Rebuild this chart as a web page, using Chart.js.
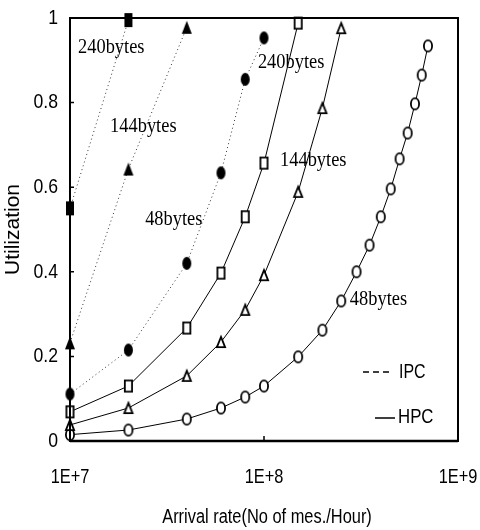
<!DOCTYPE html>
<html>
<head>
<meta charset="utf-8">
<script src="https://cdn.jsdelivr.net/npm/chart.js@4"></script>
<style>
  html, body { margin: 0; padding: 0; background: #fff; }
  #wrap { width: 480px; height: 530px; }
</style>
</head>
<body>
<div id="wrap"><canvas id="c-util"></canvas></div>
<script>
// ── DATA ──────────────────────────────────────────────────────
// arrival-rate steps (mes./hour), each series uses the first N of them
const rates  = [1e7, 2e7, 4e7, 6e7, 8e7, 1e8, 1.5e8, 2e8, 2.5e8, 3e8, 3.5e8,
                4e8, 4.5e8, 5e8, 5.5e8, 6e8, 6.5e8, 7e8];
const ipc240 = [0.55, 0.995];
const ipc144 = [0.232, 0.643, 0.978];
const ipc48  = [0.111, 0.215, 0.42, 0.634, 0.855, 0.953];
const hpc240 = [0.069, 0.13, 0.267, 0.397, 0.53, 0.657, 0.988];
const hpc144 = [0.038, 0.078, 0.154, 0.234, 0.31, 0.392, 0.589, 0.787, 0.976];
const hpc48  = [0.015, 0.026, 0.052, 0.078, 0.104, 0.13, 0.199, 0.262, 0.331, 0.40,
                0.463, 0.53, 0.596, 0.667, 0.728, 0.797, 0.865, 0.934];
const xTicks = [1e7, 1e8, 1e9];
const xTitle = 'Arrival rate(No of mes./Hour)';
const yTitle = 'Utilization';
// message-size labels next to the curves (data coords, left edge / centre)
const curveLabels = [
  { text: '240bytes', x: 1.1e7,  y: 0.929 },
  { text: '144bytes', x: 1.61e7, y: 0.742 },
  { text: '48bytes',  x: 2.44e7, y: 0.522 },
  { text: '240bytes', x: 9.3e7,  y: 0.894 },
  { text: '144bytes', x: 1.21e8, y: 0.662 },
  { text: '48bytes',  x: 2.77e8, y: 0.333 }
];
const legendItems = ['IPC', 'HPC'];

const sans = "'Liberation Sans', Arial, sans-serif";

// ── MARKERS (slightly tall, like the printed figure) ──────────
function marker(shape, w, h, filled) {
  const c = document.createElement('canvas');
  c.width = w + 4; c.height = h + 4;
  const g = c.getContext('2d');
  const lw = filled ? 0 : 1.8;
  const x0 = 2 + lw / 2, y0 = 2 + lw / 2, x1 = 2 + w - lw / 2, y1 = 2 + h - lw / 2;
  g.beginPath();
  if (shape === 'rect') {
    g.rect(x0, y0, x1 - x0, y1 - y0);
  } else if (shape === 'tri') {
    g.moveTo((x0 + x1) / 2, y0);
    g.lineTo(x1, y1);
    g.lineTo(x0, y1);
    g.closePath();
  } else {
    g.ellipse((x0 + x1) / 2, (y0 + y1) / 2, (x1 - x0) / 2, (y1 - y0) / 2, 0, 0, Math.PI * 2);
  }
  if (filled) {
    g.fillStyle = '#000';
    g.fill();
  } else {
    g.fillStyle = '#fff';
    g.fill();
    g.lineWidth = lw;
    g.strokeStyle = '#000';
    g.stroke();
  }
  return c;
}

function series(vals, style, dotted) {
  return {
    data: vals.map((v, i) => ({ x: rates[i], y: v })),
    showLine: true,
    borderColor: dotted ? '#333' : '#000',
    borderWidth: 1,
    borderDash: dotted ? [1, 3] : [],
    tension: 0,
    pointStyle: style,
    pointRadius: 6,
    pointHoverRadius: 6,
    clip: false
  };
}

// squeezed text, the figure uses a narrow face
function narrowText(ctx, text, x, y, sx) {
  ctx.save();
  ctx.translate(x, y);
  ctx.scale(sx, 1);
  ctx.fillText(text, 0, 0);
  ctx.restore();
}

// ── OVERLAYS: frame, ticks, tick labels, curve labels, legend ─
const overlay = {
  id: 'overlay',
  afterDatasetsDraw(chart) {
    const { ctx, chartArea: a, scales: { x, y } } = chart;
    ctx.save();
    ctx.strokeStyle = '#000';
    ctx.lineWidth = 2;
    ctx.strokeRect(a.left, a.top, a.right - a.left, a.bottom - a.top);
    ctx.lineWidth = 2.5;
    ctx.beginPath();
    ctx.moveTo(a.left, a.bottom); ctx.lineTo(a.right, a.bottom);
    ctx.stroke();

    // small tick marks pointing into the plot
    ctx.lineWidth = 1.5;
    ctx.beginPath();
    y.ticks.forEach(t => {
      const py = y.getPixelForValue(t.value);
      ctx.moveTo(a.left, py); ctx.lineTo(a.left + 4, py);
    });
    x.ticks.forEach(t => {
      const px = x.getPixelForValue(t.value);
      ctx.moveTo(px, a.bottom); ctx.lineTo(px, a.bottom - 5);
    });
    ctx.stroke();

    // tick labels
    ctx.fillStyle = '#000';
    ctx.font = '21px ' + sans;
    ctx.textBaseline = 'middle';
    ctx.textAlign = 'right';
    y.ticks.forEach(t => {
      narrowText(ctx, String(+t.value.toFixed(1)), a.left - 12, y.getPixelForValue(t.value), 0.84);
    });
    ctx.textAlign = 'center';
    x.ticks.forEach(t => {
      narrowText(ctx, '1E+' + Math.round(Math.log10(t.value)), x.getPixelForValue(t.value), a.bottom + 36, 0.78);
    });
    ctx.font = '20px ' + sans;
    narrowText(ctx, xTitle, (a.left + a.right) / 2 + 3, a.bottom + 76, 0.82);

    // size labels
    ctx.font = "20px 'Liberation Serif', 'DejaVu Serif', serif";
    ctx.textAlign = 'left';
    curveLabels.forEach(l => {
      narrowText(ctx, l.text, x.getPixelForValue(l.x), y.getPixelForValue(l.y), 0.92);
    });

    // legend
    const lx = a.right - 95, ly = a.bottom - 69;
    ctx.lineWidth = 1.6;
    ctx.beginPath();
    for (let i = 0; i < 3; i++) {
      ctx.moveTo(lx + i * 10, ly); ctx.lineTo(lx + i * 10 + 6, ly);
    }
    ctx.moveTo(lx + 12, ly + 46); ctx.lineTo(lx + 32, ly + 46);
    ctx.stroke();
    ctx.font = '21px ' + sans;
    narrowText(ctx, legendItems[0], lx + 36, ly, 0.76);
    narrowText(ctx, legendItems[1], lx + 35, ly + 45, 0.8);
    ctx.restore();
  }
};

new Chart(document.getElementById('c-util'), {
  type: 'scatter',
  data: {
    datasets: [
      series(ipc240, marker('rect', 8, 14, true), true),
      series(ipc144, marker('tri', 10, 13, true), true),
      series(ipc48,  marker('ellipse', 9, 13, true), true),
      series(hpc240, marker('rect', 9, 13, false), false),
      series(hpc144, marker('tri', 10, 12, false), false),
      series(hpc48,  marker('ellipse', 10, 13, false), false)
    ]
  },
  options: {
    responsive: true,
    maintainAspectRatio: false,
    animation: false,
    layout: { padding: { top: 18, right: 22, left: 0, bottom: 0 } },
    plugins: { legend: { display: false }, tooltip: { enabled: false } },
    scales: {
      x: {
        type: 'logarithmic',
        min: 1e7, max: 1e9,
        afterBuildTicks: s => { s.ticks = xTicks.map(v => ({ value: v })); },
        afterFit: s => { s.height = 89; },
        grid: { display: false, drawTicks: false },
        border: { display: false },
        ticks: { display: false }
      },
      y: {
        min: 0, max: 1,
        afterFit: s => { s.width = 70; },
        grid: { display: false, drawTicks: false },
        border: { display: false },
        ticks: { display: false, stepSize: 0.2 },
        title: {
          display: true,
          text: yTitle,
          color: '#000',
          font: { family: sans, size: 21 },
          padding: { top: 1, bottom: 0 }
        }
      }
    }
  },
  plugins: [overlay]
});
</script>
</body>
</html>
